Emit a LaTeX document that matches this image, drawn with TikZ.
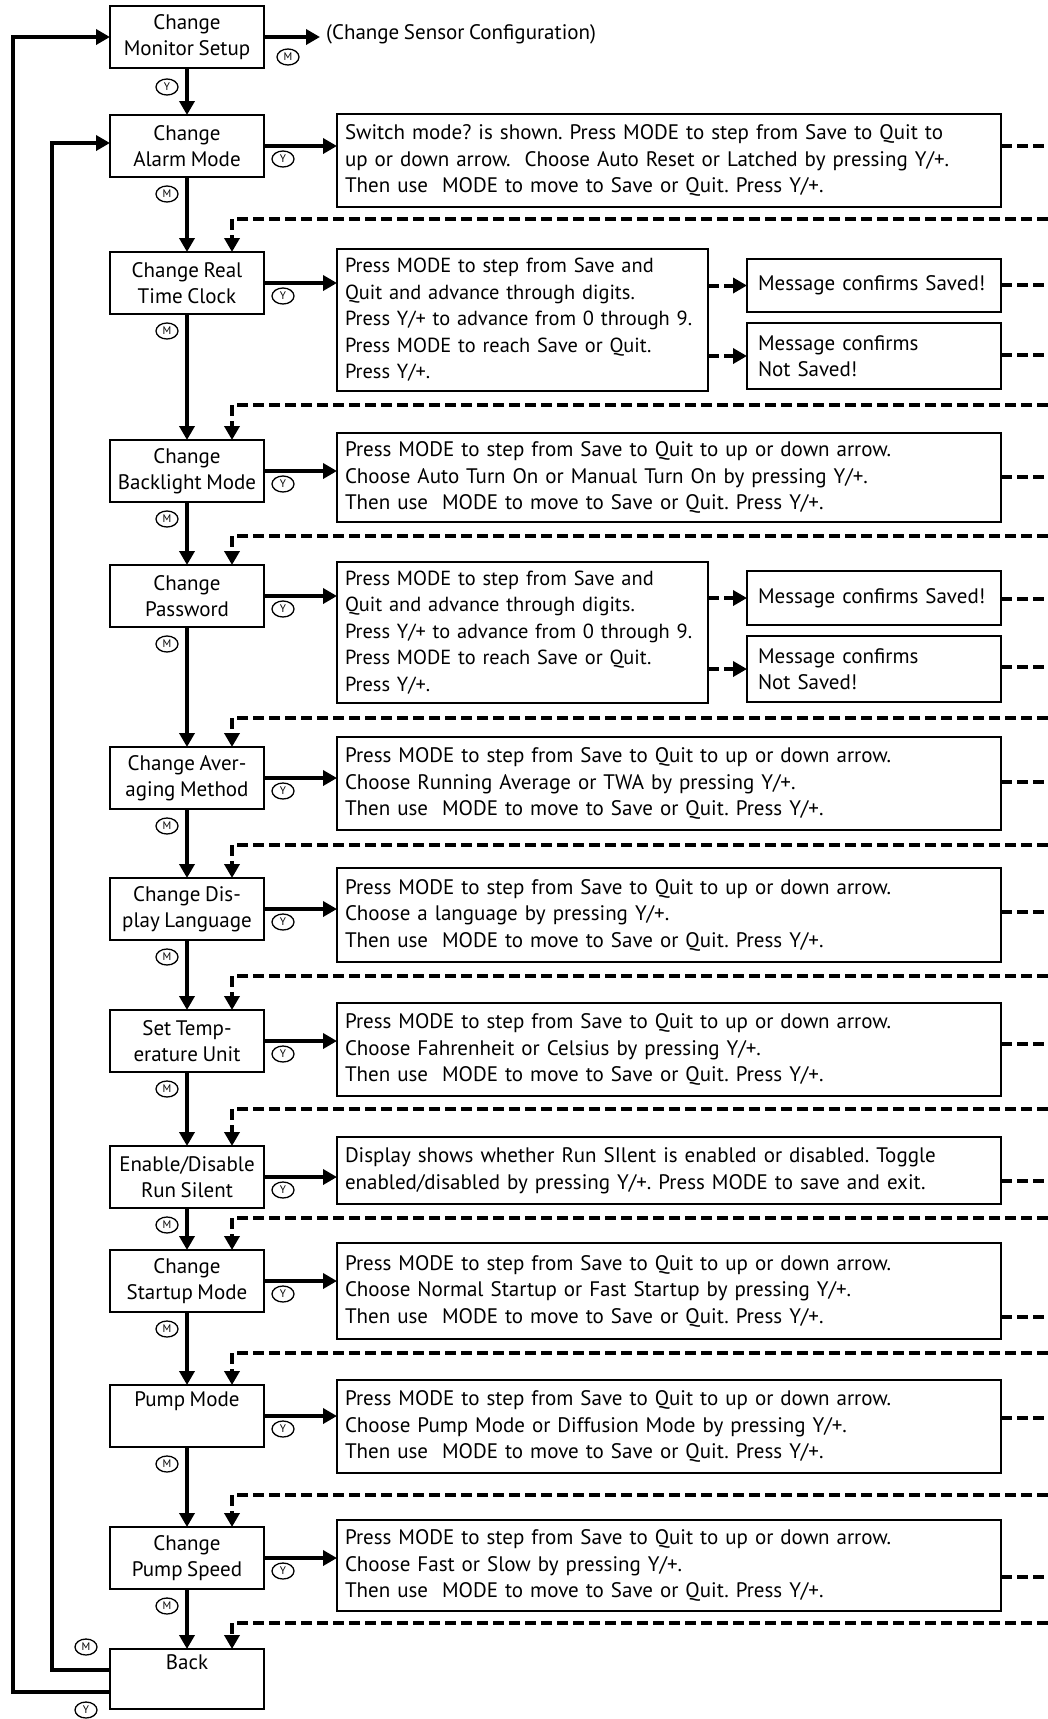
\documentclass[tikz,border=0pt]{standalone}
\usepackage{fontspec}
\usetikzlibrary{arrows.meta,shapes.geometric}
\newfontfamily\dfont[WordSpace=0.82]{PT Sans}
\frenchspacing
\begin{document}
\begin{tikzpicture}[x=1pt,y=-1pt,
 lbox/.style={draw,line width=2.2pt,minimum width=154pt,minimum height=62pt,inner sep=0pt,outer sep=0pt,align=center,font=\dfont\fontsize{21}{26}\selectfont},
 dbox/.style={draw,line width=2.2pt,anchor=north west,align=left,inner xsep=8pt,inner ysep=0pt,outer sep=0pt,text width=648pt,font=\dfont\fontsize{21}{26.5}\selectfont},
 nbox/.style={dbox,text width=355pt,font=\dfont\fontsize{20.4}{26.5}\selectfont},
 mbox/.style={dbox,inner xsep=11pt,text width=232pt},
 lbl/.style={draw,ellipse,line width=1.3pt,minimum width=22pt,minimum height=16pt,inner sep=0pt,font=\dfont\fontsize{11}{11}\selectfont},
 conn/.style={line width=4pt,-{Triangle[length=14pt,width=15pt]}},
 dline/.style={line width=4pt,dash pattern=on 11pt off 5pt},
 darrow/.style={dline,-{Triangle[length=14pt,width=15pt]}},
]
\useasboundingbox[fill=white] (0,0) rectangle (1048,1719);

% left column
\node[lbox] (b1) at (187,37) {Change\\Monitor Setup};
\node[lbox] (b2) at (187,146) {Change\\Alarm Mode};
\node[lbox] (b3) at (187,283) {Change Real\\Time Clock};
\node[lbox] (b4) at (187,471) {Change\\Backlight Mode};
\node[lbox] (b5) at (187,596) {Change\\Password};
\node[lbox] (b6) at (187,778) {Change Aver-\\aging Method};
\node[lbox] (b7) at (187,909) {Change Dis-\\play Language};
\node[lbox] (b8) at (187,1041) {Set Temp-\\erature Unit};
\node[lbox] (b9) at (187,1177) {Enable/Disable\\Run Silent};
\node[lbox] (b10) at (187,1281) {Change\\Startup Mode};
\node[lbox] (b11) at (187,1416) {Pump Mode\\\strut};
\node[lbox] (b12) at (187,1558) {Change\\Pump Speed};
\node[lbox,minimum height=60pt] (b13) at (187,1679) {Back\\\strut};

% description boxes
\node[dbox,minimum height=93pt] (d2) at (337,114) {Switch mode? is shown. Press MODE to step from Save to Quit to\\up or down arrow.\ \ Choose Auto Reset or Latched by pressing Y/+.\\Then use\ \ MODE to move to Save or Quit. Press Y/+.};
\node[nbox,minimum height=142pt] (d3) at (337,249) {\mbox{Press MODE to step from Save and}\\\mbox{Quit and advance through digits.}\\\mbox{Press Y/+ to advance from 0 through 9.}\\\mbox{Press MODE to reach Save or Quit.}\\Press Y/+.};
\node[mbox,minimum height=53pt] (m3a) at (747,259) {Message confirms Saved!};
\node[mbox,minimum height=66pt] (m3b) at (747,323) {Message confirms\\Not Saved!};
\node[dbox,minimum height=89pt] (d4) at (337,433) {Press MODE to step from Save to Quit to up or down arrow.\\Choose Auto Turn On or Manual Turn On by pressing Y/+.\\Then use\ \ MODE to move to Save or Quit. Press Y/+.};
\node[nbox,minimum height=141pt] (d5) at (337,562) {\mbox{Press MODE to step from Save and}\\\mbox{Quit and advance through digits.}\\\mbox{Press Y/+ to advance from 0 through 9.}\\\mbox{Press MODE to reach Save or Quit.}\\Press Y/+.};
\node[mbox,minimum height=54pt] (m5a) at (747,571) {Message confirms Saved!};
\node[mbox,minimum height=66pt] (m5b) at (747,636) {Message confirms\\Not Saved!};
\node[dbox,minimum height=93pt] (d6) at (337,737) {Press MODE to step from Save to Quit to up or down arrow.\\Choose Running Average or TWA by pressing Y/+.\\Then use\ \ MODE to move to Save or Quit. Press Y/+.};
\node[dbox,minimum height=94pt] (d7) at (337,868) {Press MODE to step from Save to Quit to up or down arrow.\\Choose a language by pressing Y/+.\\Then use\ \ MODE to move to Save or Quit. Press Y/+.};
\node[dbox,minimum height=93pt] (d8) at (337,1003) {Press MODE to step from Save to Quit to up or down arrow.\\Choose Fahrenheit or Celsius by pressing Y/+.\\Then use\ \ MODE to move to Save or Quit. Press Y/+.};
\node[dbox,minimum height=67pt] (d9) at (337,1137) {Display shows whether Run SIlent is enabled or disabled. Toggle\\enabled/disabled by pressing Y/+. Press MODE to save and exit.};
\node[dbox,minimum height=96pt] (d10) at (337,1243) {Press MODE to step from Save to Quit to up or down arrow.\\Choose Normal Startup or Fast Startup by pressing Y/+.\\Then use\ \ MODE to move to Save or Quit. Press Y/+.};
\node[dbox,minimum height=93pt] (d11) at (337,1380) {Press MODE to step from Save to Quit to up or down arrow.\\Choose Pump Mode or Diffusion Mode by pressing Y/+.\\Then use\ \ MODE to move to Save or Quit. Press Y/+.};
\node[dbox,minimum height=91pt] (d12) at (337,1520) {Press MODE to step from Save to Quit to up or down arrow.\\Choose Fast or Slow by pressing Y/+.\\Then use\ \ MODE to move to Save or Quit. Press Y/+.};

% sensor config
\node[anchor=west,inner xsep=6pt,inner ysep=0pt,font=\dfont\fontsize{21}{26}\selectfont] (cs) at (320,34) {(Change Sensor Configuration)};
\draw[conn] (b1.east) -- (b1.east -| cs.west);

% key labels
\node[lbl] (m1) at (288,57) {M};
\node[lbl] (y1) at (167,87) {Y};
\foreach \c [count=\i from 2] in {146,283,471,596,778,909,1041,1177,1281,1416,1558}{
  \node[lbl] (y\i) at (283,\c+13) {Y};
  \node[lbl] (m\i) at (167,\c+48) {M};
}
\node[lbl] (mb) at (86,1647) {M};
\node[lbl] (yb) at (86,1710) {Y};

% vertical solid arrows
\foreach \a/\b in {b1/b2,b2/b3,b3/b4,b4/b5,b5/b6,b6/b7,b7/b8,b8/b9,b9/b10,b10/b11,b11/b12,b12/b13}
  \draw[conn] (\a.south) -- (\b.north);

% right arrows
\foreach \a/\b in {b2/d2,b3/d3,b4/d4,b5/d5,b6/d6,b7/d7,b8/d8,b9/d9,b10/d10,b11/d11,b12/d12}
  \draw[conn] (\a.east) -- (\a.east -| \b.west);

% dashed arrows to message boxes
\draw[darrow] (m3a.west -| d3.east) -- (m3a.west);
\draw[darrow] (m3b.west -| d3.east) -- (m3b.west);
\draw[darrow] (m5a.west -| d5.east) -- (m5a.west);
\draw[darrow] (m5b.west -| d5.east) -- (m5b.west);

% outgoing dashed lines
\foreach \y/\n in {146/d2,285/m3a,355/m3b,477/d4,599/m5a,667/m5b,782/d6,912/d7,1044/d8,1181/d9,1317/d10,1418/d11,1577/d12}{
  \coordinate (out-\n) at (1048,\y);
  \draw[dline] (out-\n -| \n.east) -- (out-\n);
}

% returning dashed arrows
\foreach \y/\n [count=\i] in {219/b3,405/b4,536/b5,718/b6,845/b7,976/b8,1109/b9,1218/b10,1353/b11,1495/b12,1623/b13}{
  \coordinate (ret\i) at (1048,\y);
  \coordinate (cor\i) at (232,\y);
  \draw[darrow] (ret\i) -- (cor\i) -- (cor\i |- \n.north);
}

% feedback lines from Back
\coordinate (ko) at (13,0);
\coordinate (ki) at (52,0);
\coordinate (bo) at ([yshift=-13pt]b13.west);
\coordinate (bi) at ([yshift=9pt]b13.west);
\coordinate (t2) at ([yshift=3pt]b2.west);
\draw[conn] (bo) -- (bo -| ko) -- (ko |- b1.west) -- (b1.west);
\draw[conn] (bi) -- (bi -| ki) -- (ki |- t2) -- (t2);
\end{tikzpicture}
\end{document}
